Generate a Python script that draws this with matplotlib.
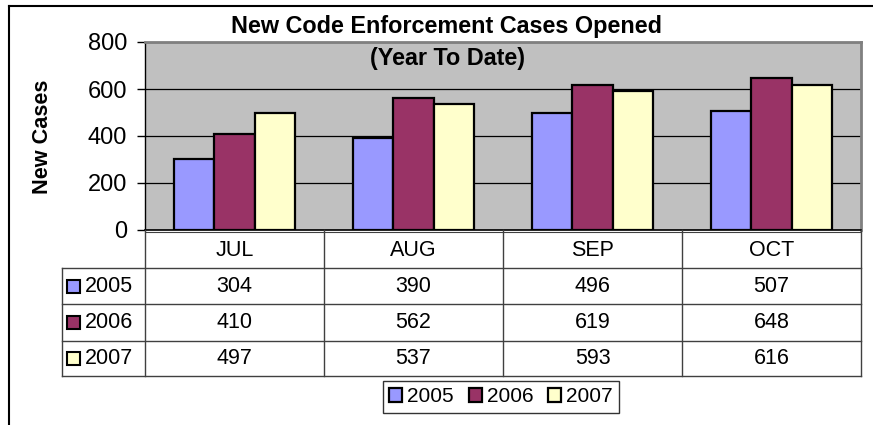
import numpy as np
import matplotlib
matplotlib.use('Agg')
import matplotlib.pyplot as plt
from matplotlib.patches import Rectangle
from matplotlib.lines import Line2D

plt.rcParams['font.family'] = ['Liberation Sans', 'DejaVu Sans']

# Data
months = ['JUL', 'AUG', 'SEP', 'OCT']
years = ['2005', '2006', '2007']
cases_2005 = [304, 390, 496, 507]
cases_2006 = [410, 562, 619, 648]
cases_2007 = [497, 537, 593, 616]
colors = ['#9999FF', '#993366', '#FFFFCC']

series = [cases_2005, cases_2006, cases_2007]

W, H = 873, 425
fig = plt.figure(figsize=(W / 100, H / 100), dpi=100)


def fx(x):
    return x / W


def fy(y):
    return 1 - y / H


# outer chart border (top and left only are visible)
fig.add_artist(Line2D([fx(9), fx(873)], [fy(6), fy(6)], color='black', lw=1.5))
fig.add_artist(Line2D([fx(9), fx(9)], [fy(6), fy(425)], color='black', lw=1.5))

# plot area
left, right, top, bottom = 145, 861, 42, 230
ax = fig.add_axes([fx(left), fy(bottom), fx(right - left), (bottom - top) / H])
ax.set_facecolor('#C0C0C0')

x = np.arange(len(months))
w = 0.2235
for i, (vals, c) in enumerate(zip(series, colors)):
    ax.bar(x + (i - 1) * w, vals, w, color=c, edgecolor='black', lw=1.6,
           label=years[i], zorder=3)

ax.set_xlim(-0.5, len(months) - 0.5)
ax.set_ylim(0, 800)
ax.set_yticks([0, 200, 400, 600, 800])
ax.yaxis.grid(True, color='black', lw=0.9, zorder=1)
ax.set_axisbelow(True)
ax.set_xticks([])
ax.tick_params(axis='y', length=6, width=1, labelsize=17, pad=7)
for s in ['top', 'right']:
    ax.spines[s].set_color('#808080')
    ax.spines[s].set_linewidth(2)
ax.spines['left'].set_linewidth(1)
ax.spines['bottom'].set_linewidth(1.2)

# titles
fig.text(fx(447), fy(27), 'New Code Enforcement Cases Opened', ha='center',
         va='center', fontsize=16.8, fontweight='bold')
fig.text(fx(448), fy(58), '(Year To Date)', ha='center', va='center',
         fontsize=16.8, fontweight='bold')
fig.text(fx(42), fy(137), 'New Cases', rotation=90, ha='center', va='center',
         fontsize=15.6, fontweight='bold')

# data table
col_edges = [left + (right - left) * k / len(months) for k in range(len(months) + 1)]
row_edges = [230, 268, 304, 341, 376]
tab_left = 62
lc = '#404040'
for xe in col_edges:
    fig.add_artist(Line2D([fx(xe), fx(xe)], [fy(230), fy(376)], color=lc, lw=1))
fig.add_artist(Line2D([fx(tab_left), fx(tab_left)], [fy(268), fy(376)], color=lc, lw=1))
fig.add_artist(Line2D([fx(left), fx(right)], [fy(232), fy(232)], color=lc, lw=0.8))
for ye in row_edges[1:]:
    fig.add_artist(Line2D([fx(tab_left), fx(right)], [fy(ye), fy(ye)], color=lc, lw=1))

tsize = 15.5
for j, m in enumerate(months):
    cx = (col_edges[j] + col_edges[j + 1]) / 2
    fig.text(fx(cx), fy(250), m, ha='center', va='center', fontsize=tsize)
    for i, vals in enumerate(series):
        cy = (row_edges[i + 1] + row_edges[i + 2]) / 2
        fig.text(fx(cx), fy(cy), str(vals[j]), ha='center', va='center', fontsize=tsize)

for i, yr in enumerate(years):
    cy = (row_edges[i + 1] + row_edges[i + 2]) / 2
    fig.add_artist(Rectangle((fx(67), fy(cy + 6.5)), fx(13), 13 / H,
                             facecolor=colors[i], edgecolor='black', lw=1.5))
    fig.text(fx(85), fy(cy), yr, ha='left', va='center', fontsize=tsize)

# legend
handles, labels = ax.get_legend_handles_labels()
leg = fig.legend(handles, labels, loc='center', bbox_to_anchor=(fx(501), fy(397)),
                 ncol=3, fontsize=15, frameon=True, fancybox=False,
                 handlelength=0.62, handleheight=0.62, handletextpad=0.25,
                 columnspacing=0.7, borderpad=0.3, borderaxespad=0)
leg.get_frame().set_edgecolor('black')
leg.get_frame().set_linewidth(1)

fig.savefig('out.png', dpi=100)
